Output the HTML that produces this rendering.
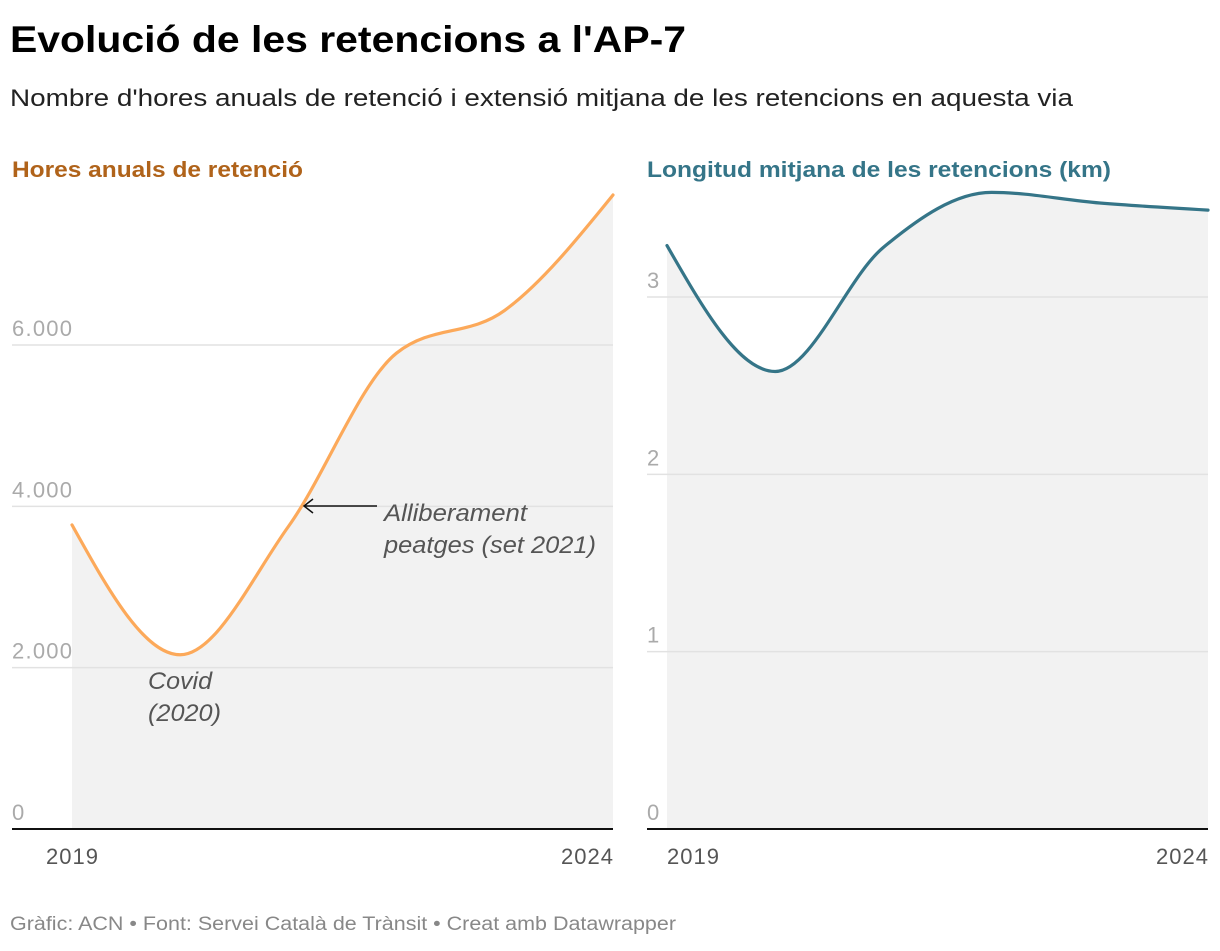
<!DOCTYPE html>
<html><head><meta charset="utf-8">
<style>
body{margin:0;background:#fff;width:1220px;height:946px;overflow:hidden;font-family:"Liberation Sans",sans-serif;}
svg text{font-family:"Liberation Sans",sans-serif;}
</style></head>
<body>
<svg id="chart" width="1220" height="946">
<text x="10" y="52" font-size="37" font-weight="bold" fill="#000" textLength="676" lengthAdjust="spacingAndGlyphs">Evolució de les retencions a l'AP-7</text>
<text x="10" y="106" font-size="24" fill="#222" textLength="1063" lengthAdjust="spacingAndGlyphs">Nombre d'hores anuals de retenció i extensió mitjana de les retencions en aquesta via</text>
<text x="12" y="177" font-size="22" font-weight="bold" fill="#b0631a" textLength="291" lengthAdjust="spacingAndGlyphs">Hores anuals de retenció</text>
<text x="647" y="177" font-size="22" font-weight="bold" fill="#357588" textLength="464" lengthAdjust="spacingAndGlyphs">Longitud mitjana de les retencions (km)</text>
<text x="10" y="930" font-size="19" fill="#888" textLength="666" lengthAdjust="spacingAndGlyphs">Gràfic: ACN • Font: Servei Català de Trànsit • Creat amb Datawrapper</text>
<g id="left"></g><g id="right"></g>
</svg>
<script>
const years = [2019, 2020, 2021, 2022, 2023, 2024];
const hoursValues = [3770, 2160, 3750, 5900, 6430, 7860];
const hoursTicks = [0, 2000, 4000, 6000];
const hoursTickLabels = ["0", "2.000", "4.000", "6.000"];
const kmValues = [3.29, 2.58, 3.28, 3.59, 3.53, 3.49];
const kmTicks = [0, 1, 2, 3];
const kmTickLabels = ["0", "1", "2", "3"];
const xTickLabels = ["2019", "2024"];

const NS = "http://www.w3.org/2000/svg";
function mk(tag, attrs, parent){const e=document.createElementNS(NS,tag);for(const k in attrs)e.setAttribute(k,attrs[k]);parent.appendChild(e);return e;}

function monotonePath(pts){
  const n=pts.length, d=[], m=[];
  for(let i=0;i<n-1;i++){d.push((pts[i+1][1]-pts[i][1])/(pts[i+1][0]-pts[i][0]));}
  for(let i=0;i<n;i++){
    if(i===0) m.push(d[0]); else if(i===n-1) m.push(d[n-2]);
    else { if(d[i-1]*d[i]<=0) m.push(0); else { const h0=pts[i][0]-pts[i-1][0],h1=pts[i+1][0]-pts[i][0]; const p=(d[i-1]*h1+d[i]*h0)/(h0+h1); m.push(Math.sign(d[i])*Math.min(Math.abs(p),2*Math.abs(d[i-1]),2*Math.abs(d[i])) ); } }
  }
  if(n>2){m[0]=(3*d[0]-m[1])/2; m[n-1]=(3*d[n-2]-m[n-2])/2;}
  let s="M"+pts[0][0]+","+pts[0][1];
  for(let i=0;i<n-1;i++){const h=(pts[i+1][0]-pts[i][0])/3;
    s+=" C"+(pts[i][0]+h)+","+(pts[i][1]+m[i]*h)+" "+(pts[i+1][0]-h)+","+(pts[i+1][1]-m[i+1]*h)+" "+pts[i+1][0]+","+pts[i+1][1];}
  return s;
}

function panel(g, cfg){
  const x = v => cfg.x0 + (v-years[0])/(years[years.length-1]-years[0])*(cfg.x1-cfg.x0);
  const y = v => cfg.yb - v/cfg.yMax*(cfg.yb-cfg.yt);
  const pts = years.map((yr,i)=>[x(yr), y(cfg.values[i])]);
  const line = monotonePath(pts);
  const area = mk("path",{d:line+" L"+cfg.x1+","+cfg.yb+" L"+cfg.x0+","+cfg.yb+" Z",fill:"#f2f2f2"},g);
  
  
  cfg.ticks.forEach((t,i)=>{
    if(t>0){const gl=mk("line",{x1:cfg.gx,x2:cfg.x1,y1:y(t),y2:y(t),stroke:"#e2e2e2","stroke-width":1.5},g);
      
      }
    const tl=mk("text",{x:cfg.gx,y:y(t)-9,"font-size":22,fill:"#aaa"},g);
    if(cfg.tickLabels[i].length>1) tl.setAttribute("textLength", 60);
    tl.textContent=cfg.tickLabels[i];
    
    
  });
  const base=mk("line",{x1:cfg.gx,x2:cfg.x1,y1:cfg.yb,y2:cfg.yb,stroke:"#111","stroke-width":2},g);
  
  
  const ln=mk("path",{d:line,fill:"none",stroke:cfg.color,"stroke-width":3.2,"stroke-linecap":"round"},g);
  
  
  [years[0],years[years.length-1]].forEach((yr,i)=>{
    const t=mk("text",{x:x(yr),y:864,"font-size":22,fill:"#555","text-anchor":i===0?cfg.firstAnchor:"end",textLength:52},g);
    if(i===1) t.setAttribute("x", cfg.x1);
    t.textContent=xTickLabels[i];
    
    
  });
  return {x,y};
}

panel(document.getElementById("left"),{x0:72,x1:613,gx:12,yb:829,yt:345,yMax:6000,values:hoursValues,ticks:hoursTicks,tickLabels:hoursTickLabels,color:"#fca95a",name:"hours",firstAnchor:"middle"});
panel(document.getElementById("right"),{x0:667,x1:1208,gx:647,yb:829,yt:297,yMax:3,values:kmValues,ticks:kmTicks,tickLabels:kmTickLabels,color:"#357588",name:"km",firstAnchor:"start"});

const lg=document.getElementById("left");
const ar=mk("path",{d:"M377,506 L304,506 M313,499 L304,506 L313,513",fill:"none",stroke:"#111","stroke-width":1.5},lg);


[["Alliberament",384,521,143],["peatges (set 2021)",384,553,212],["Covid",148,689,64],["(2020)",148,721,73]].forEach(a=>{
  const t=mk("text",{x:a[1],y:a[2],"font-size":24,"font-style":"italic",fill:"#555",textLength:a[3],lengthAdjust:"spacingAndGlyphs"},lg);
  t.textContent=a[0];
  
  
});
</script>
</body></html>
